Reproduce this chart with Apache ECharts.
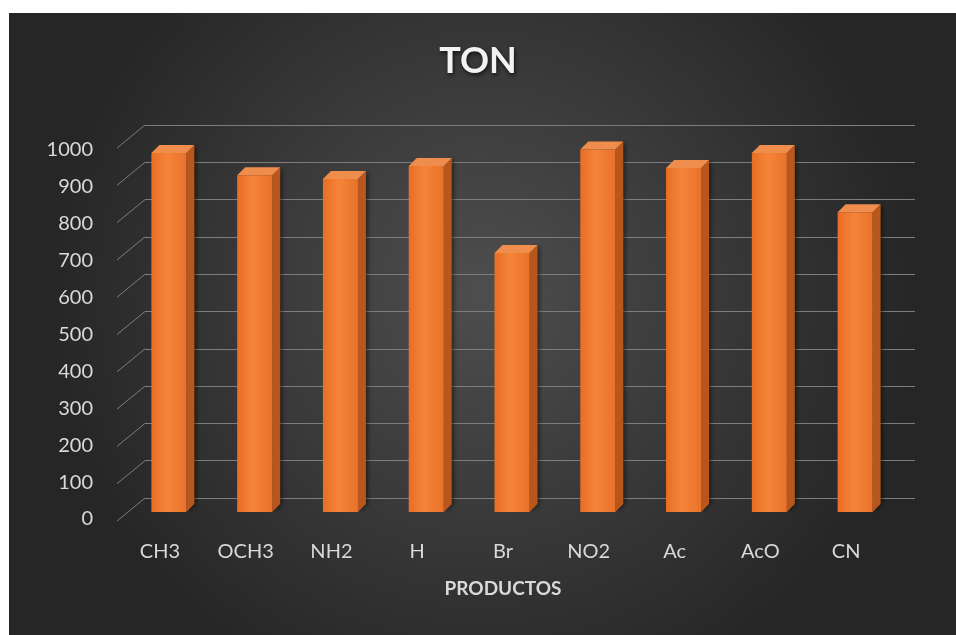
<!DOCTYPE html>
<html>
<head>
<meta charset="utf-8">
<script src="https://cdn.jsdelivr.net/npm/echarts@6/dist/echarts.min.js"></script>
<style>
  html, body { margin: 0; padding: 0; background: #fff; }
  #chart { width: 956px; height: 635px; }
</style>
</head>
<body>
<div id="chart"></div>
<script>
var productos = ["CH3", "OCH3", "NH2", "H", "Br", "NO2", "Ac", "AcO", "CN"];
var ton = [970, 910, 900, 935, 700, 980, 930, 970, 810];
var yTicks = [0, 100, 200, 300, 400, 500, 600, 700, 800, 900, 1000];

var myChart = echarts.init(document.getElementById("chart"));

var lineColor = "#7d7d7d";
var textColor = "#d9d9d9";
var font = "Lato, 'Open Sans', sans-serif";

// caja 3D: cara frontal, lateral y superior
function renderBar(params, api) {
  var v = api.value(1);
  var top = api.coord([api.value(0), v]);
  var base = api.coord([api.value(0), 0]);
  var w = 35, dx = 8, dy = 8;
  var x0 = top[0] - w / 2, x1 = top[0] + w / 2;
  return {
    type: "group",
    children: [
      {
        type: "polygon",
        shape: { points: [[x1, base[1]], [x1 + dx, base[1] - dy], [x1 + dx, top[1] - dy], [x1, top[1]]] },
        style: { fill: "#b9561b", shadowBlur: 4, shadowColor: "rgba(0,0,0,0.5)", shadowOffsetX: 2 }
      },
      {
        type: "polygon",
        shape: { points: [[x0, top[1]], [x0 + dx, top[1] - dy], [x1 + dx, top[1] - dy], [x1, top[1]]] },
        style: { fill: "#ef8d4c" }
      },
      {
        type: "rect",
        shape: { x: x0, y: top[1], width: w, height: base[1] - top[1] },
        style: {
          fill: new echarts.graphic.LinearGradient(0, 0, 1, 0, [
            { offset: 0, color: "#e86e24" },
            { offset: 0.45, color: "#f5843a" },
            { offset: 1, color: "#e9722a" }
          ])
        }
      }
    ]
  };
}

// lineas laterales de la pared (perspectiva)
function renderSide(params, api) {
  var p = api.coord([0, api.value(1)]);
  return {
    type: "line",
    shape: { x1: p[0], y1: p[1], x2: p[0] - 28, y2: p[1] + 23 },
    style: { stroke: lineColor, lineWidth: 1 }
  };
}

var option = {
  animation: false,
  graphic: [
    {
      type: "rect",
      left: 9,
      top: 13,
      z: -10,
      shape: { width: 947, height: 622 },
      style: {
        fill: new echarts.graphic.RadialGradient(0.5, 0.45, 0.7, [
          { offset: 0, color: "#4e4e4e" },
          { offset: 1, color: "#262626" }
        ])
      }
    }
  ],
  title: {
    text: "TON",
    left: "center",
    top: 38,
    textStyle: {
      color: "#f2f2f2",
      fontFamily: font,
      fontWeight: "bold",
      fontSize: 36,
      textShadowColor: "rgba(0,0,0,0.7)",
      textShadowBlur: 4,
      textShadowOffsetX: 1,
      textShadowOffsetY: 2
    }
  },
  grid: [
    { left: 145, right: 41, top: 125, bottom: 137 },
    { left: 117, right: 67, top: 150, bottom: 116 },
    { left: 126, right: 58, top: 142, bottom: 123 }
  ],
  xAxis: [
    { type: "value", gridIndex: 0, min: 0, max: 1, show: false },
    {
      type: "category",
      gridIndex: 1,
      data: productos,
      axisLine: { show: false },
      axisTick: { show: false },
      axisLabel: { color: textColor, fontFamily: font, fontSize: 20, margin: 23 },
      name: "PRODUCTOS",
      nameLocation: "middle",
      nameGap: 60,
      nameTextStyle: { color: textColor, fontFamily: font, fontSize: 19, fontWeight: "bold" }
    },
    { type: "category", gridIndex: 2, data: productos, show: false }
  ],
  yAxis: [
    {
      type: "value",
      gridIndex: 0,
      min: 0,
      max: 1000,
      interval: 100,
      axisLabel: { show: false },
      axisLine: { show: false },
      axisTick: { show: false },
      splitLine: { lineStyle: { color: lineColor, width: 1 } }
    },
    {
      type: "value",
      gridIndex: 1,
      min: 0,
      max: 1000,
      interval: 100,
      axisLine: { show: false },
      axisTick: { show: false },
      splitLine: { show: false },
      axisLabel: {
        color: textColor,
        fontFamily: font,
        fontSize: 20,
        margin: 24,
        formatter: function (v) { return String(v); }
      }
    },
    { type: "value", gridIndex: 2, min: 0, max: 1000, show: false }
  ],
  series: [
    {
      type: "custom",
      xAxisIndex: 0,
      yAxisIndex: 0,
      renderItem: renderSide,
      data: yTicks.map(function (t) { return [0, t]; }),
      silent: true
    },
    {
      name: "TON",
      type: "custom",
      xAxisIndex: 2,
      yAxisIndex: 2,
      renderItem: renderBar,
      data: ton.map(function (v, i) { return [i, v]; })
    }
  ]
};

myChart.setOption(option);
window.addEventListener("resize", function () {
  myChart.resize();
});
</script>
</body>
</html>
